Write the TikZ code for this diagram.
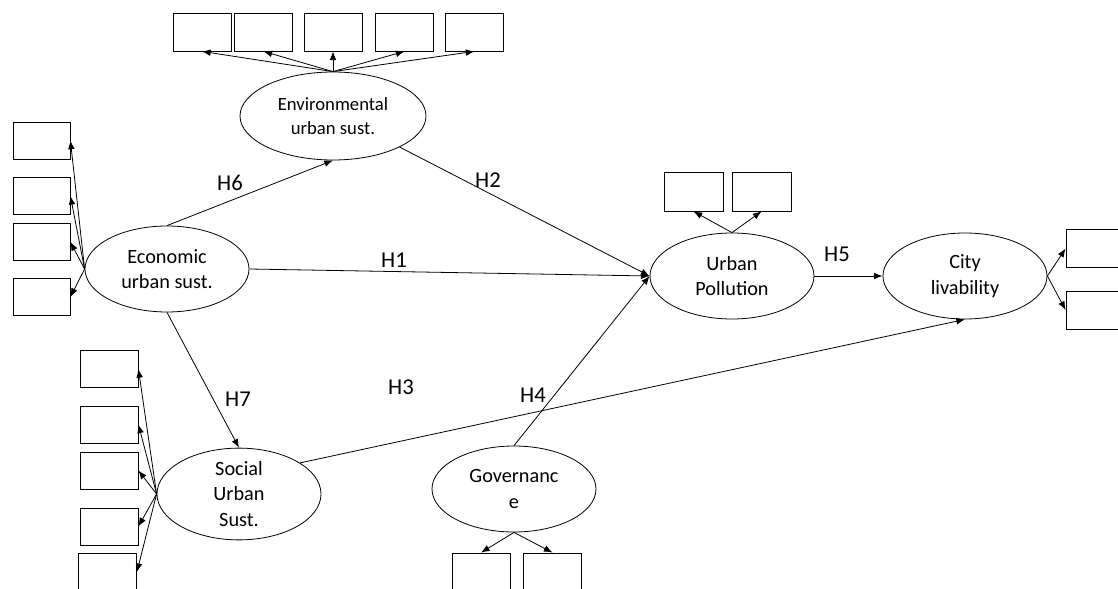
\documentclass[tikz,border=0pt]{standalone}
\usepackage{fontspec}
\setmainfont{Carlito}
\usetikzlibrary{arrows.meta,shapes.geometric}
\begin{document}
\begin{tikzpicture}[x=0.75pt,y=-0.75pt,
  line width=0.6pt,
  lat/.style={draw, ellipse, inner sep=0pt, minimum width=123pt, minimum height=64.5pt, align=center, font=\fontsize{15.2}{19}\selectfont},
  ind/.style={draw, rectangle, inner sep=0pt, minimum width=43.5pt, minimum height=28.5pt},
  arr/.style={-{Latex[length=6.5pt,width=5pt]}},
  hlab/.style={font=\fontsize{17}{20}\selectfont, inner sep=0pt}
]
\useasboundingbox (0,0) rectangle (1118,589);
\clip (0,0) rectangle (1118,589);
% latent variables
\node[lat, minimum width=139.5pt, minimum height=66pt, font=\fontsize{14}{17.5}\selectfont] (env) at (333,116) {Environmental\\urban sust.};
\node[lat] (econ) at (167,269) {Economic\\urban sust.};
\node[lat] (soc) at (239,494) {Social\\Urban\\Sust.};
\node[lat] (gov) at (514,489) {Governanc\\e};
\node[lat] (up) at (732,276) {Urban\\Pollution};
\node[lat] (city) at (965,276) {City\\livability};
% indicators environmental
\node[ind] (t1) at (202,32) {};
\node[ind] (t2) at (263.5,32) {};
\node[ind] (t3) at (333,32) {};
\node[ind] (t4) at (404.5,32) {};
\node[ind] (t5) at (474.5,32) {};
\foreach \b in {t1,t2,t3,t4,t5} \draw[arr] (env.north) -- (\b.south);
% indicators economic
\node[ind, minimum width=42.75pt, minimum height=27.75pt] (e1) at (41.5,140.5) {};
\node[ind, minimum width=42.75pt, minimum height=27.75pt] (e2) at (41.5,196) {};
\node[ind, minimum width=42.75pt, minimum height=27.75pt] (e3) at (41.5,242) {};
\node[ind, minimum width=42.75pt, minimum height=27.75pt] (e4) at (41.5,297) {};
\foreach \b in {e1,e2,e3,e4} \draw[arr] (econ.west) -- (\b.east);
% indicators social
\node[ind, minimum height=27.75pt] (s1) at (109,369) {};
\node[ind, minimum height=27.75pt] (s2) at (109,424.5) {};
\node[ind, minimum height=27.75pt] (s3) at (109,470.5) {};
\node[ind, minimum height=27.75pt] (s4) at (109,526.5) {};
\node[ind] (s5) at (107.5,572) {};
\foreach \b in {s1,s2,s3,s4,s5} \draw[arr] (soc.west) -- (\b.east);
% indicators governance
\node[ind] (g1) at (481,572) {};
\node[ind] (g2) at (552.5,572) {};
\foreach \b in {g1,g2} \draw[arr] (gov.south) -- (\b.north);
% indicators urban pollution
\node[ind, minimum width=44.25pt, minimum height=29.25pt] (u1) at (693.5,191.5) {};
\node[ind, minimum width=44.25pt, minimum height=29.25pt] (u2) at (761.5,191.5) {};
\foreach \b in {u1,u2} \draw[arr] (up.north) -- (\b.south);
% indicators city livability
\node[ind] (c1) at (1095,248.5) {};
\node[ind] (c2) at (1095,310) {};
\foreach \b in {c1,c2} \draw[arr] (city.east) -- (\b.west);
% structural paths
\draw[arr] (econ.east) -- (up.west);
\draw[arr] (env.-25) -- (up.west);
\draw[arr] (soc.27) -- (city.south);
\draw[arr] (gov.north) -- (up.west);
\draw[arr] (up.east) -- (city.west);
\draw[arr] (econ.north) -- (env.south);
\draw[arr] (econ.south) -- (soc.north);
% labels
\node[hlab] (h1) at (394,260) {H1};
\node[hlab] (h2) at (488,180) {H2};
\node[hlab] (h3) at (401,387) {H3};
\node[hlab] (h4) at (533,395) {H4};
\node[hlab] (h5) at (837,254) {H5};
\node[hlab] (h6) at (230,183) {H6};
\node[hlab] (h7) at (238,399) {H7};
\end{tikzpicture}
\end{document}
